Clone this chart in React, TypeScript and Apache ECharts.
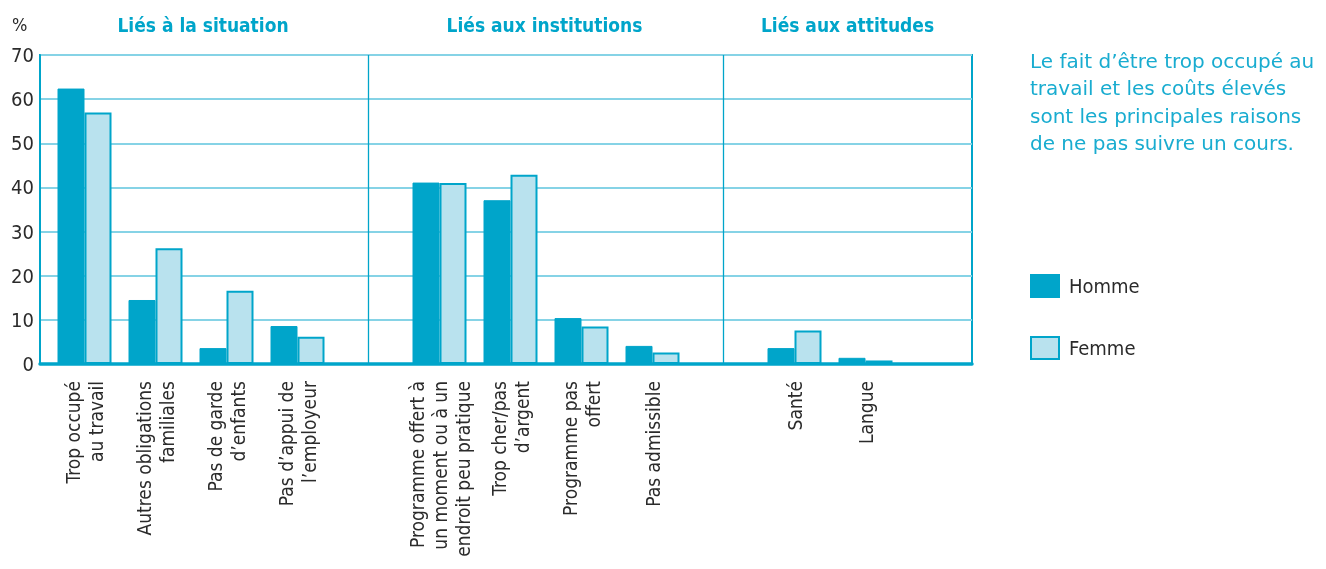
import React, { useEffect, useRef } from "react";
import * as echarts from "echarts";

const categoryKeys = ["c0", "c1", "c2", "c3", "sep1", "c5", "c6", "c7", "c8", "sep2", "c10", "c11", "sep3"];
const categoryLabels = [
  "Trop occupé\nau travail",
  "Autres obligations\nfamiliales",
  "Pas de garde\nd’enfants",
  "Pas d’appui de\nl’employeur",
  "",
  "Programme offert à\nun moment ou à un\nendroit peu pratique",
  "Trop cher/pas\nd’argent",
  "Programme pas\noffert",
  "Pas admissible",
  "",
  "Santé",
  "Langue",
  "",
];
const homme = [62.4, 14.5, 3.6, 8.6, null, 41.1, 37.1, 10.4, 4.1, null, 3.6, 1.4, null];
const femme = [57.0, 26.2, 16.6, 6.2, null, 41.0, 42.9, 8.5, 2.6, null, 7.6, 0.8, null];
const yTicks = [0, 10, 20, 30, 40, 50, 60, 70];
const groupTitles = ["Liés à la situation", "Liés aux institutions", "Liés aux attitudes"];
const separators = ["sep1", "sep2"];
const note = [
  "Le fait d’être trop occupé au",
  "travail et les coûts élevés",
  "sont les principales raisons",
  "de ne pas suivre un cours.",
];

const TEAL = "#00A5CA";
const LIGHT = "#B9E2EE";
const GRID = "#86D3E6";
const TXT = "#2b2b2b";
const FONT = "'Liberation Sans Narrow', 'DejaVu Sans Condensed', 'Roboto', sans-serif";

export default function App() {
  const ref = useRef<HTMLDivElement>(null);
  useEffect(() => {
    if (!ref.current) return;
    const chart = echarts.init(ref.current, undefined, { renderer: "svg" });
    const left = 40;
    const right = 972;
    const top = 55;
    const bottom = 364;
    const W = 1326;
    const H = 569;
    const groupCenters = [(40 + 366) / 2, (366 + 723) / 2, (723 + 972) / 2];
    chart.setOption({
      animation: false,
      textStyle: { fontFamily: FONT },
      grid: [
        { left, right: W - right, top, bottom: H - bottom, show: true, borderColor: TEAL, borderWidth: 2, backgroundColor: "transparent" },
        { left: 49, right: W - right, top, bottom: H - bottom },
      ],
      xAxis: [
        {
          type: "value",
          gridIndex: 0,
          min: 0,
          max: 1,
          axisLine: { show: true, onZero: false, lineStyle: { color: TEAL, width: 3.5 } },
          axisTick: { show: false },
          axisLabel: { show: false },
          splitLine: { show: false },
        },
        {
          type: "category",
          gridIndex: 1,
          data: categoryKeys,
          axisLine: { show: false },
          axisTick: { show: false },
          axisLabel: {
            rotate: 90,
            interval: 0,
            margin: 17,
            fontSize: 19,
            lineHeight: 23,
            color: TXT,
            fontFamily: FONT,
            formatter: (v: string) => categoryLabels[categoryKeys.indexOf(v)],
          },
        },
      ],
      yAxis: [
        {
          type: "value",
          gridIndex: 0,
          min: yTicks[0],
          max: yTicks[yTicks.length - 1],
          interval: 10,
          axisLine: { show: true, lineStyle: { color: TEAL, width: 2 } },
          axisTick: { show: false },
          axisLabel: { margin: 6, fontSize: 20, color: TXT, fontFamily: FONT },
          splitLine: { show: true, lineStyle: { color: GRID, width: 2 } },
        },
        {
          type: "value",
          gridIndex: 1,
          min: yTicks[0],
          max: yTicks[yTicks.length - 1],
          interval: 10,
          show: false,
          splitLine: { show: false },
        },
      ],
      legend: {
        orient: "vertical",
        left: 1030,
        top: 274,
        padding: 0,
        icon: "rect",
        itemWidth: 28,
        itemHeight: 22,
        itemGap: 38,
        textStyle: { fontSize: 20, color: TXT, fontFamily: FONT, padding: [0, 0, 0, 5] },
        data: ["Homme", "Femme"],
      },
      series: [
        {
          name: "Homme",
          type: "bar",
          xAxisIndex: 1,
          yAxisIndex: 1,
          data: homme,
          barWidth: 27,
          barGap: "0%",
          itemStyle: { color: TEAL, borderColor: TEAL, borderWidth: 1 },
        },
        {
          name: "Femme",
          type: "bar",
          xAxisIndex: 1,
          yAxisIndex: 1,
          data: femme,
          barWidth: 27,
          barGap: "0%",
          itemStyle: { color: LIGHT, borderColor: TEAL, borderWidth: 2 },
        },
        {
          name: "separators",
          type: "line",
          xAxisIndex: 1,
          yAxisIndex: 1,
          data: [],
          symbol: "none",
          markLine: {
            silent: true,
            symbol: "none",
            label: { show: false },
            lineStyle: { color: TEAL, width: 1.3, type: "solid" },
            data: separators.map((s) => ({ xAxis: s })),
          },
        },
      ],
      graphic: [
        {
          type: "text",
          left: 12,
          top: 15,
          style: { text: "%", fontSize: 18, fill: TXT, fontFamily: FONT },
        },
        ...groupTitles.map((t, i) => ({
          type: "text",
          x: groupCenters[i],
          y: 25,
          style: {
            text: t,
            fontSize: 19,
            fontWeight: "bold",
            fill: TEAL,
            fontFamily: FONT,
            align: "center",
            verticalAlign: "middle",
          },
        })),
        {
          type: "text",
          x: 1030,
          y: 47,
          style: {
            text: note.join("\n"),
            fontSize: 20,
            lineHeight: 27.5,
            fill: "#19ACD0",
            fontFamily: "'DejaVu Sans', sans-serif",
          },
        },
      ],
    });
    return () => chart.dispose();
  }, []);
  return <div ref={ref} style={{ position: "fixed", left: 0, top: 0, width: 1326, height: 569 }} />;
}
